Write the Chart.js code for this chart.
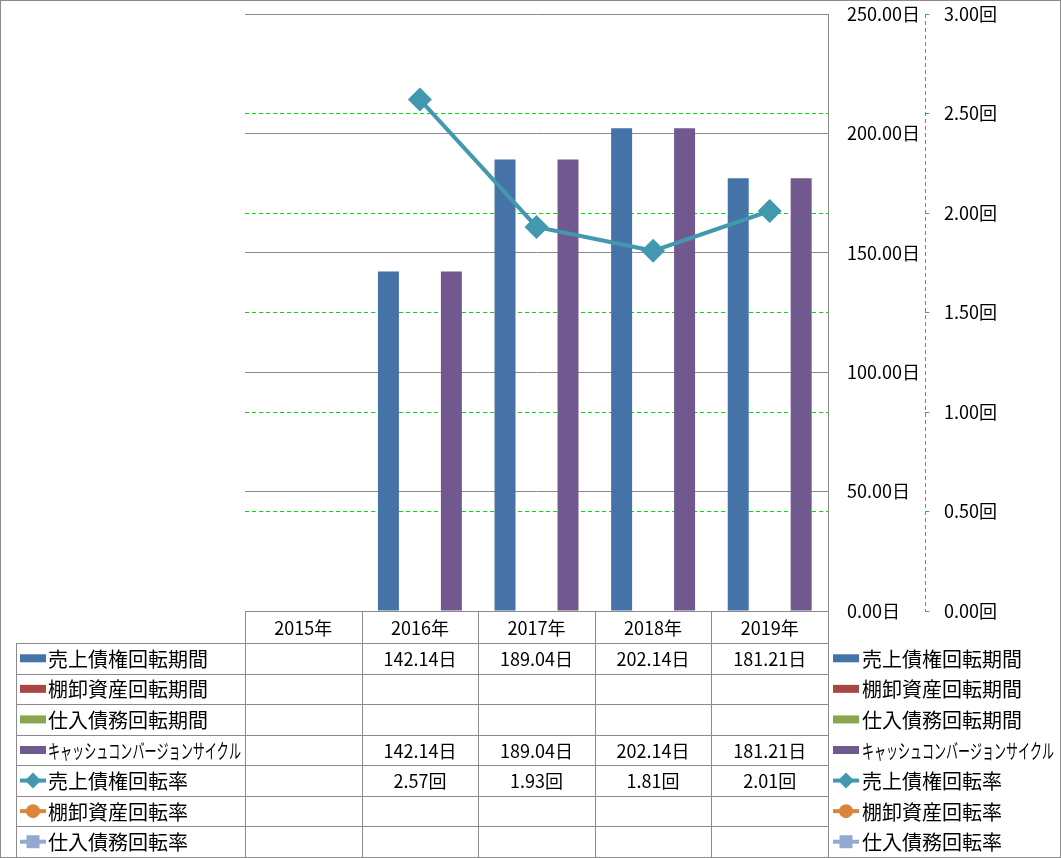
<!DOCTYPE html>
<html>
<head>
<meta charset="utf-8">
<script src="https://cdn.jsdelivr.net/npm/chart.js@4"></script>
<style>
  body { margin: 0; background: #fff; }
  canvas { display: block; }
</style>
</head>
<body>
<canvas id="cv" width="1061" height="858"></canvas>
<script>
// カテゴリと系列
var years = ['2015年', '2016年', '2017年', '2018年', '2019年'];
var uriageKikan = [null, 142.14, 189.04, 202.14, 181.21];
var tanaoroshiKikan = [null, null, null, null, null];
var shiireKikan = [null, null, null, null, null];
var cccKikan = [null, 142.14, 189.04, 202.14, 181.21];
var uriageKaiten = [null, 2.57, 1.93, 1.81, 2.01];
var tanaoroshiKaiten = [null, null, null, null, null];
var shiireKaiten = [null, null, null, null, null];

var daysTicks = [0, 50, 100, 150, 200, 250];
var rateTicks = [0, 0.5, 1, 1.5, 2, 2.5, 3];

var FONT = '"Noto Sans CJK JP", "Noto Sans", sans-serif';
var GRAY = '#8a8a8a';
var GREEN = '#00dd00';

var series = [
  { name: '売上債権回転期間', data: uriageKikan, color: '#4572A7', kind: 'bar', unit: '日' },
  { name: '棚卸資産回転期間', data: tanaoroshiKikan, color: '#AA4643', kind: 'bar', unit: '日' },
  { name: '仕入債務回転期間', data: shiireKikan, color: '#89A54E', kind: 'bar', unit: '日' },
  { name: 'キャッシュコンバージョンサイクル', data: cccKikan, color: '#71588F', kind: 'bar', unit: '日' },
  { name: '売上債権回転率', data: uriageKaiten, color: '#4198AF', kind: 'line', style: 'rectRot', unit: '回' },
  { name: '棚卸資産回転率', data: tanaoroshiKaiten, color: '#DB843D', kind: 'line', style: 'circle', unit: '回' },
  { name: '仕入債務回転率', data: shiireKaiten, color: '#93A9CF', kind: 'line', style: 'rect', unit: '回' }
];

var datasets = series.map(function (s) {
  if (s.kind == 'bar') {
    return {
      type: 'bar', label: s.name, data: s.data, yAxisID: 'y', order: 1,
      backgroundColor: s.color, borderWidth: 0,
      categoryPercentage: 0.72, barPercentage: 1.0
    };
  }
  return {
    type: 'line', label: s.name, data: s.data, yAxisID: 'y1', order: 0,
    borderColor: s.color, backgroundColor: s.color, borderWidth: 4,
    pointStyle: s.style, pointRadius: 12, pointBorderWidth: 0, tension: 0
  };
});

function drawKey(ctx, s, x, y) {
  ctx.save();
  if (s.kind == 'bar') {
    ctx.fillStyle = s.color;
    ctx.fillRect(x, y - 4, 26, 8);
  } else {
    ctx.strokeStyle = s.color;
    ctx.fillStyle = s.color;
    ctx.lineWidth = 4;
    ctx.beginPath();
    ctx.moveTo(x, y); ctx.lineTo(x + 26, y);
    ctx.stroke();
    var cx = x + 13;
    ctx.beginPath();
    if (s.style == 'rectRot') {
      ctx.moveTo(cx, y - 8); ctx.lineTo(cx + 8, y); ctx.lineTo(cx, y + 8); ctx.lineTo(cx - 8, y);
    } else if (s.style == 'circle') {
      ctx.arc(cx, y, 7, 0, Math.PI * 2);
    } else {
      ctx.rect(cx - 6.5, y - 6.5, 13, 13);
    }
    ctx.closePath();
    ctx.fill();
  }
  ctx.restore();
}

var tablePlugin = {
  id: 'dataTable',
  afterDraw: function (chart) {
    var ctx = chart.ctx;
    var xs = chart.scales.x;
    var y1 = chart.scales.y1;
    var area = chart.chartArea;
    var half = (xs.getPixelForValue(1) - xs.getPixelForValue(0)) / 2;
    var top = area.bottom;
    var headH = 32;
    var rowH = (857 - top - headH) / series.length;

    ctx.save();
    // 第2軸の破線
    ctx.strokeStyle = GREEN;
    ctx.lineWidth = 1;
    ctx.setLineDash([4, 3]);
    ctx.beginPath();
    ctx.moveTo(Math.round(y1.left) + 0.5, area.top);
    ctx.lineTo(Math.round(y1.left) + 0.5, area.bottom);
    ctx.stroke();
    ctx.setLineDash([]);

    // 表の罫線
    ctx.strokeStyle = GRAY;
    ctx.beginPath();
    var left = area.left, right = area.right;
    ctx.moveTo(left, top + 0.5); ctx.lineTo(right, top + 0.5);
    for (var r = 0; r <= series.length; r++) {
      var yy = Math.round(top + headH + r * rowH) + 0.5;
      ctx.moveTo(16, yy); ctx.lineTo(right, yy);
    }
    for (var i = 0; i <= years.length; i++) {
      var xx = Math.round(xs.getPixelForValue(i) - half) + 0.5;
      ctx.moveTo(xx, top); ctx.lineTo(xx, 857);
    }
    ctx.moveTo(16.5, top + headH); ctx.lineTo(16.5, 857);
    ctx.stroke();

    // 外枠
    ctx.strokeRect(0.5, 0.5, 1060, 857);

    // 見出し
    ctx.fillStyle = '#000';
    ctx.textBaseline = 'middle';
    ctx.textAlign = 'center';
    ctx.font = '18px ' + FONT;
    years.forEach(function (yr, i) {
      ctx.fillText(yr, xs.getPixelForValue(i), top + headH / 2 + 1);
    });

    series.forEach(function (s, r) {
      var cy = top + headH + r * rowH + rowH / 2;
      ctx.textAlign = 'center';
      ctx.font = '18px ' + FONT;
      s.data.forEach(function (v, i) {
        if (v == null) return;
        ctx.fillText(v.toFixed(2) + s.unit, xs.getPixelForValue(i), cy + 1);
      });
      // 凡例 (左と右)
      ctx.textAlign = 'left';
      ctx.font = '20px ' + FONT;
      drawKey(ctx, s, 20, cy);
      ctx.fillText(s.name, 48, cy + 1, 193);
      drawKey(ctx, s, 833, cy);
      ctx.fillText(s.name, 862, cy + 1, 192);
    });
    ctx.restore();
  }
};

function noPad(axis) {
  axis.paddingTop = 0;
  axis.paddingBottom = 0;
}

var ctx = document.getElementById('cv').getContext('2d');
new Chart(ctx, {
  data: { labels: years, datasets: datasets },
  plugins: [tablePlugin],
  options: {
    responsive: false,
    animation: false,
    layout: { padding: { left: 245, top: 14, bottom: 247, right: 0 } },
    plugins: { legend: { display: false }, tooltip: { enabled: false } },
    scales: {
      x: { type: 'category', display: false, offset: true },
      y: {
        position: 'right', min: 0, max: 250,
        afterBuildTicks: function (axis) { axis.ticks = daysTicks.map(function (v) { return { value: v }; }); },
        afterFit: function (axis) { axis.width = 97; noPad(axis); },
        grid: { color: GRAY, lineWidth: 1, drawTicks: false },
        border: { display: true, color: GRAY, width: 1 },
        ticks: {
          padding: 19, color: '#000', font: { family: FONT, size: 18 },
          callback: function (v) { return v.toFixed(2) + '日'; }
        }
      },
      y1: {
        position: 'right', min: 0, max: 3,
        afterBuildTicks: function (axis) { axis.ticks = rateTicks.map(function (v) { return { value: v }; }); },
        afterFit: function (axis) { axis.width = 136; noPad(axis); },
        grid: {
          color: function (c) { return (c.tick && (c.tick.value == 0 || c.tick.value == 3)) ? 'rgba(0,0,0,0)' : GREEN; },
          tickColor: GREEN, tickLength: 4, lineWidth: 1
        },
        border: { display: false, dash: [4, 3] },
        ticks: {
          padding: 15, color: '#000', font: { family: FONT, size: 18 },
          callback: function (v) { return v.toFixed(2) + '回'; }
        }
      }
    }
  }
});
</script>
</body>
</html>
